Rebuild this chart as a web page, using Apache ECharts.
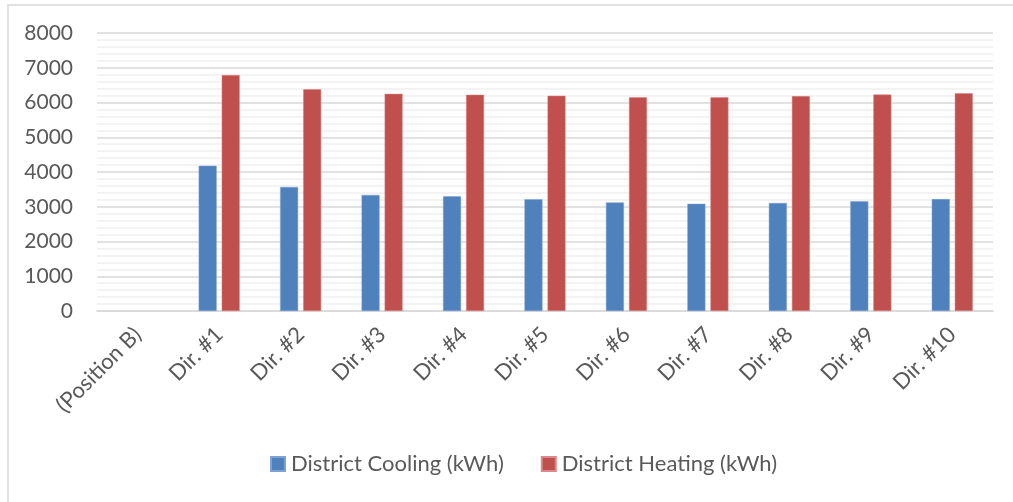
<!DOCTYPE html>
<html><head><meta charset="utf-8">
<script src="https://cdn.jsdelivr.net/npm/echarts@6/dist/echarts.min.js"></script>
<style>html,body{margin:0;padding:0;background:#fff}#c{width:1013px;height:502px}</style>
</head><body><div id="c"></div>
<script>
const categories = ['(Position B)','Dir. #1','Dir. #2','Dir. #3','Dir. #4','Dir. #5','Dir. #6','Dir. #7','Dir. #8','Dir. #9','Dir. #10'];
const coolingName = 'District Cooling (kWh)';
const heatingName = 'District Heating (kWh)';
const cooling = [null,4180,3570,3340,3300,3215,3125,3085,3110,3160,3220];
const heating = [null,6790,6380,6250,6225,6195,6150,6150,6185,6230,6265];
const yTicks = [0,1000,2000,3000,4000,5000,6000,7000,8000];

const font = 'Lato, "Open Sans", sans-serif';
const chart = echarts.init(document.getElementById('c'));
chart.setOption({
  animation:false,
  backgroundColor:'#fff',
  graphic:[{type:'rect',shape:{x:8,y:5,width:1100,height:600},style:{fill:'none',stroke:'#d9d9d9',lineWidth:1.5},silent:true}],
  grid:{left:97,right:20,top:33,bottom:191,containLabel:false},
  legend:{bottom:22,left:265,itemWidth:14,itemHeight:14,itemGap:37,icon:'rect',
    textStyle:{fontFamily:font,fontSize:22,color:'#595959',padding:[0,0,0,1]},data:[coolingName,heatingName]},
  xAxis:{type:'category',data:categories,
    axisLine:{lineStyle:{color:'#d9d9d9',width:1.5}},axisTick:{show:false},
    axisLabel:{rotate:45,interval:0,fontFamily:font,fontSize:22,color:'#595959',margin:20}},
  yAxis:{type:'value',min:yTicks[0],max:yTicks[yTicks.length-1],interval:1000,
    axisLine:{show:false},axisTick:{show:false},
    axisLabel:{fontFamily:font,fontSize:21,color:'#595959',margin:24,formatter:v=>String(v)},
    splitLine:{lineStyle:{color:'#d9d9d9',width:1.5}},
    minorTick:{show:false,splitNumber:5},
    minorSplitLine:{show:true,lineStyle:{color:'#f0f0f0',width:1.5}}},
  series:[
    {name:coolingName,type:'bar',data:cooling,barWidth:18,barGap:'28%',
      itemStyle:{color:'#4f81bd',borderColor:'#7ea3d3',borderWidth:0.5}},
    {name:heatingName,type:'bar',data:heating,barWidth:18,
      itemStyle:{color:'#c0504d',borderColor:'#d98a88',borderWidth:0.5}}
  ]
});
</script></body></html>
